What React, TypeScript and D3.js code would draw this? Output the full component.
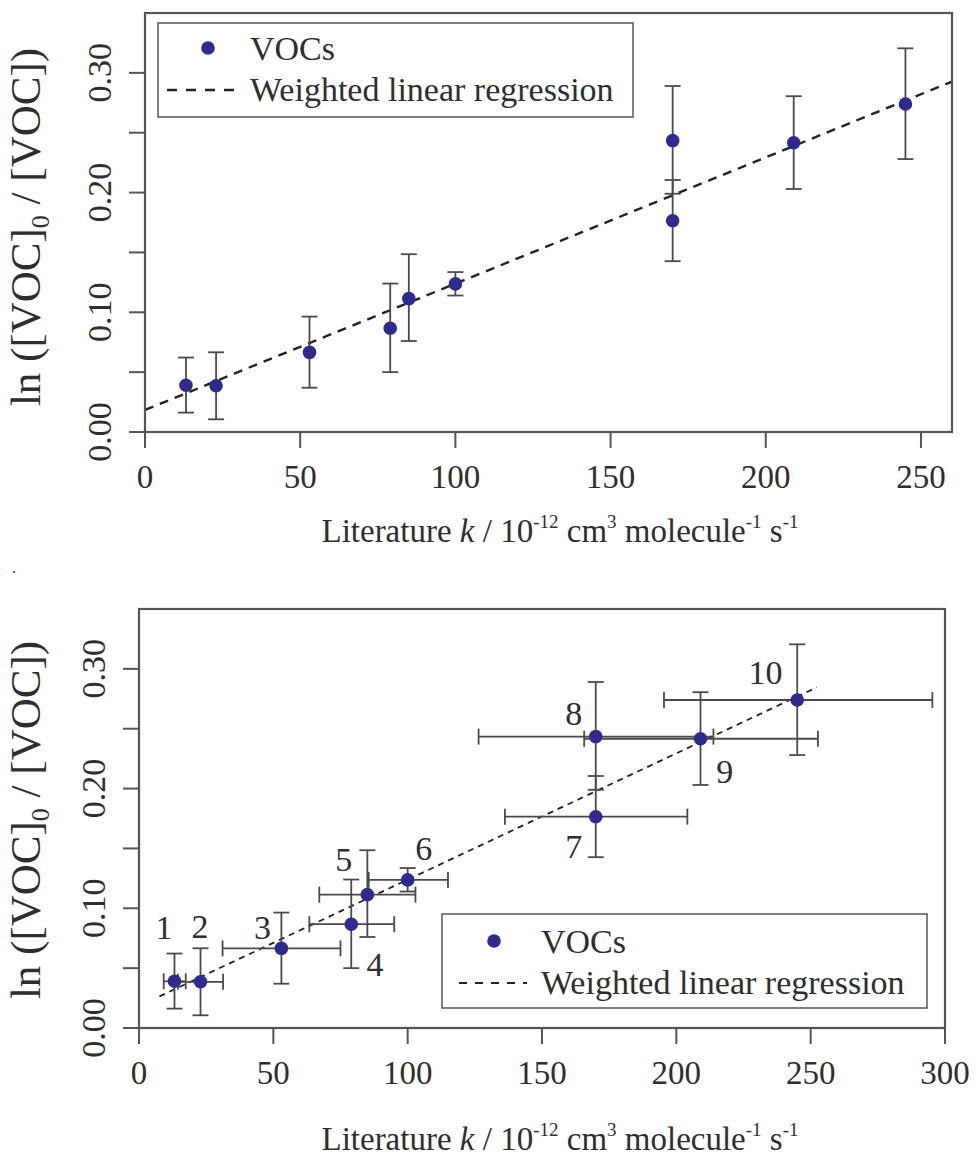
import React from "react";
import * as d3 from "d3";

// ---- data ----
const kLit = [13.2, 22.9, 53, 79, 85, 100, 170, 170, 209, 245];
const lnRatio = [0.039, 0.0386, 0.0665, 0.0867, 0.1114, 0.1237, 0.1765, 0.2434, 0.2416, 0.274];
const lnLo = [0.0162, 0.0106, 0.037, 0.05, 0.076, 0.114, 0.1427, 0.199, 0.203, 0.228];
const lnHi = [0.0622, 0.0666, 0.0964, 0.124, 0.1485, 0.1336, 0.2105, 0.289, 0.2805, 0.3205];
const kLo = [9.2, 14.5, 31.1, 63.4, 67.1, 85.5, 136.2, 126.4, 165.7, 195.4];
const kHi = [17.4, 31.3, 75, 95, 102.9, 115, 204.1, 213.8, 252.7, 295.3];
const pointLabels = ["1", "2", "3", "4", "5", "6", "7", "8", "9", "10"];
const labelK = [9.3, 22.7, 46, 87.8, 76.2, 106, 161.8, 161.8, 218, 233.2];
const labelLn = [0.0836, 0.0845, 0.0836, 0.0527, 0.1405, 0.1497, 0.152, 0.2625, 0.214, 0.2968];
const regIntercept = 0.0184;
const regSlope = 0.001055;
const regRangeBottom = [7.6, 252.3];
const yTicks = [0, 0.05, 0.1, 0.15, 0.2, 0.25, 0.3];
const yTickLabels = ["0.00", "", "0.10", "", "0.20", "", "0.30"];
const xTicksTop = [0, 50, 100, 150, 200, 250];
const xTicksBottom = [0, 50, 100, 150, 200, 250, 300];
const legendLabels = ["VOCs", "Weighted linear regression"];

const FONT = "'Liberation Serif', 'Times New Roman', serif";
const PT = "#2d2b8c";
const AX = "#555";
const TX = "#2e2e2e";

type PanelCfg = {
  left: number; right: number; top: number; bottom: number;
  xmax: number; xticks: number[];
  full: boolean;
  legend: { x0: number; y0: number; x1: number; y1: number; mx: number; my: number; tx: number; ty1: number; ty2: number; lx0: number; lx1: number; ly: number };
  titleY: number; yTitleCy: number;
};

const panels: PanelCfg[] = [
  {
    left: 145, right: 952, top: 13, bottom: 432, xmax: 260, xticks: xTicksTop, full: false,
    legend: { x0: 158, y0: 23, x1: 633, y1: 117, mx: 208, my: 48, tx: 250, ty1: 60, ty2: 101, lx0: 167, lx1: 236, ly: 90 },
    titleY: 542, yTitleCy: 227,
  },
  {
    left: 139, right: 945, top: 609, bottom: 1028, xmax: 300, xticks: xTicksBottom, full: true,
    legend: { x0: 442, y0: 914, x1: 927, y1: 1008, mx: 494, my: 941, tx: 541, ty1: 953, ty2: 994, lx0: 459, lx1: 527, ly: 983 },
    titleY: 1150, yTitleCy: 820,
  },
];

function Panel({ p }: { p: PanelCfg }) {
  const x = d3.scaleLinear().domain([0, p.xmax]).range([p.left, p.right]);
  const y = d3.scaleLinear().domain([0, 0.35]).range([p.bottom, p.top]);
  const idx = d3.range(kLit.length);
  const regX = p.full ? regRangeBottom : [0, p.xmax];
  const line = d3.line<number>().x((k) => x(k)).y((k) => y(regIntercept + regSlope * k));
  const cap = 8;
  const tickLen = 16;
  return (
    <g>
      {/* regression */}
      <path
        d={line(regX) || ""}
        fill="none"
        stroke="#222"
        strokeWidth={p.full ? 1.8 : 2.4}
        strokeDasharray={p.full ? "6,5" : "9,7"}
      />
      {/* error bars */}
      {idx.map((i) => (
        <g key={"e" + i} stroke="#4a4a4a" strokeWidth={1.8} fill="none">
          <line x1={x(kLit[i])} x2={x(kLit[i])} y1={y(lnLo[i])} y2={y(lnHi[i])} />
          <line x1={x(kLit[i]) - cap} x2={x(kLit[i]) + cap} y1={y(lnLo[i])} y2={y(lnLo[i])} />
          <line x1={x(kLit[i]) - cap} x2={x(kLit[i]) + cap} y1={y(lnHi[i])} y2={y(lnHi[i])} />
          {p.full && (
            <>
              <line x1={x(kLo[i])} x2={x(kHi[i])} y1={y(lnRatio[i])} y2={y(lnRatio[i])} />
              <line x1={x(kLo[i])} x2={x(kLo[i])} y1={y(lnRatio[i]) - cap} y2={y(lnRatio[i]) + cap} />
              <line x1={x(kHi[i])} x2={x(kHi[i])} y1={y(lnRatio[i]) - cap} y2={y(lnRatio[i]) + cap} />
            </>
          )}
        </g>
      ))}
      {idx.map((i) => (
        <circle key={"p" + i} cx={x(kLit[i])} cy={y(lnRatio[i])} r={6.8} fill={PT} />
      ))}
      {p.full &&
        idx.map((i) => (
          <text key={"l" + i} x={x(labelK[i])} y={y(labelLn[i])} dominantBaseline="central" textAnchor="middle"
            fontFamily={FONT} fontSize={34} fill={TX}>
            {pointLabels[i]}
          </text>
        ))}
      {/* box */}
      <rect x={p.left} y={p.top} width={p.right - p.left} height={p.bottom - p.top} fill="none" stroke={AX} strokeWidth={2.2} />
      {/* x axis ticks */}
      {p.xticks.map((t) => (
        <g key={"xt" + t}>
          <line x1={x(t)} x2={x(t)} y1={p.bottom} y2={p.bottom + tickLen} stroke={AX} strokeWidth={2} />
          <text x={x(t)} y={p.bottom + 56} textAnchor="middle" fontFamily={FONT} fontSize={33} fill={TX}>
            {t}
          </text>
        </g>
      ))}
      {/* y axis ticks */}
      {yTicks.map((t, j) => (
        <g key={"yt" + j}>
          <line x1={p.left - tickLen} x2={p.left} y1={y(t)} y2={y(t)} stroke={AX} strokeWidth={2} />
          {yTickLabels[j] && (
            <text transform={`translate(${p.left - 34},${y(t)}) rotate(-90)`} textAnchor="middle"
              fontFamily={FONT} fontSize={34} fill={TX}>
              {yTickLabels[j]}
            </text>
          )}
        </g>
      ))}
      {/* x title */}
      <text x={560} y={p.titleY} textAnchor="middle" fontFamily={FONT} fontSize={33} fill={TX}>
        Literature <tspan fontStyle="italic">k</tspan> / 10
        <tspan dy={-14} fontSize={19}>-12</tspan>
        <tspan dy={14}> cm</tspan>
        <tspan dy={-14} fontSize={19}>3</tspan>
        <tspan dy={14}> molecule</tspan>
        <tspan dy={-14} fontSize={19}>-1</tspan>
        <tspan dy={14}> s</tspan>
        <tspan dy={-14} fontSize={19}>-1</tspan>
      </text>
      {/* y title */}
      <text transform={`translate(40,${p.yTitleCy}) rotate(-90)`} textAnchor="middle" fontFamily={FONT} fontSize={43} fill={TX}>
        ln ([VOC]<tspan dy={9} fontSize={26}>0</tspan>
        <tspan dy={-9}> / [VOC])</tspan>
      </text>
      {/* legend */}
      <rect x={p.legend.x0} y={p.legend.y0} width={p.legend.x1 - p.legend.x0} height={p.legend.y1 - p.legend.y0}
        fill="#fff" stroke={AX} strokeWidth={1.5} />
      <circle cx={p.legend.mx} cy={p.legend.my} r={6.8} fill={PT} />
      <text x={p.legend.tx} y={p.legend.ty1} fontFamily={FONT} fontSize={34} fill={TX}>{legendLabels[0]}</text>
      <line x1={p.legend.lx0} x2={p.legend.lx1} y1={p.legend.ly} y2={p.legend.ly} stroke="#222"
        strokeWidth={p.full ? 1.8 : 2.4} strokeDasharray={p.full ? "8,8" : "10,9"} />
      <text x={p.legend.tx} y={p.legend.ty2} fontFamily={FONT} fontSize={34} fill={TX}>{legendLabels[1]}</text>
    </g>
  );
}

export default function App() {
  return (
    <div style={{ position: "absolute", left: 0, top: 0 }}>
      <svg width={979} height={1157} style={{ display: "block", background: "#fff" }}>
        <rect x={13} y={571} width={2} height={2} fill="#e33" />
        {panels.map((p, i) => (
          <Panel key={i} p={p} />
        ))}
      </svg>
    </div>
  );
}
